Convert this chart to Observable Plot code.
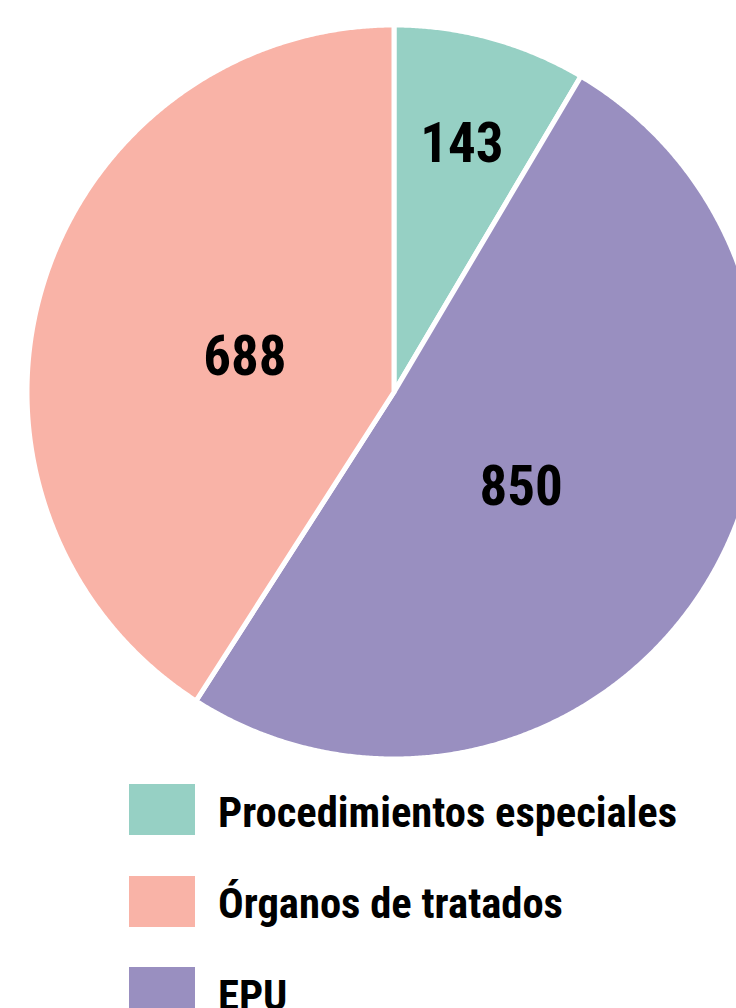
<!DOCTYPE html>
<html>
<head>
<meta charset="utf-8">
<script src="https://cdn.jsdelivr.net/npm/d3@7"></script>
<script src="https://cdn.jsdelivr.net/npm/@observablehq/plot@0.6"></script>
<style>
  html, body { margin: 0; padding: 0; background: #fff; overflow: hidden; }
  #chart svg { display: block; }
  .legend { margin-left: 129px; margin-top: 14px; font-family: "Roboto Condensed", "Liberation Sans Narrow", "DejaVu Sans Condensed", sans-serif; font-weight: 700; }
  .row { display: flex; align-items: center; height: 51px; margin-bottom: 40.5px; }
  .sw { width: 66px; height: 51px; flex: none; }
  .lab { margin-left: 23px; font-size: 42.6px; color: #000; white-space: nowrap; position: relative; top: 2px; }
</style>
</head>
<body>
<div id="chart"></div>
<div class="legend" id="legend"></div>
<script>
// Data
const categories = ["Procedimientos especiales", "Órganos de tratados", "EPU"];
const values = [143, 688, 850];
const colors = ["#96d0c4", "#f9b3a7", "#998fc0"];
// clockwise order of slices starting at 12 o'clock
const pieOrder = ["Procedimientos especiales", "EPU", "Órganos de tratados"];

// Layout (label placement relative to each slice's mid-angle)
const labelRadius = [0.70, 0.417, 0.433];
const labelAngleShift = [0, -3.3, 5.2]; // degrees
const W = 736, H = 770;
const cx = 393.5, cy = 391.5, R = 367;
const font = '"Roboto Condensed", "Liberation Sans Narrow", "DejaVu Sans Condensed", sans-serif';

const total = d3.sum(values);
let acc = 0;
const slices = pieOrder.map(name => {
  const i = categories.indexOf(name);
  const a0 = acc / total * 2 * Math.PI;
  acc += values[i];
  const a1 = acc / total * 2 * Math.PI;
  return {name, value: values[i], a0, a1, lr: labelRadius[i], shift: labelAngleShift[i] * Math.PI / 180};
});

const pts = [];
for (const s of slices) {
  pts.push({name: s.name, x: cx, y: cy});
  const n = Math.max(8, Math.ceil((s.a1 - s.a0) / 0.005));
  for (let k = 0; k <= n; k++) {
    const a = s.a0 + (s.a1 - s.a0) * k / n;
    pts.push({name: s.name, x: cx + R * Math.sin(a), y: cy - R * Math.cos(a)});
  }
  pts.push({name: s.name, x: cx, y: cy});
}
const labels = slices.map(s => {
  const a = (s.a0 + s.a1) / 2 + s.shift;
  return {text: String(s.value), x: cx + s.lr * R * Math.sin(a), y: cy - s.lr * R * Math.cos(a)};
});

const plot = Plot.plot({
  width: W, height: H,
  margin: 0,
  x: {domain: [0, W], range: [0, W], axis: null},
  y: {domain: [0, H], range: [0, H], axis: null},
  color: {domain: categories, range: colors},
  style: {background: "#fff", overflow: "hidden"},
  marks: [
    Plot.line(pts, {x: "x", y: "y", z: "name", fill: "name", stroke: "#fff", strokeWidth: 5, strokeLinejoin: "round", clip: true}),
    Plot.text(labels, {x: "x", y: "y", text: "text", fontSize: 55, fontWeight: "bold", fontFamily: font, fill: "#000", textAnchor: "middle", lineAnchor: "middle"})
  ]
});
document.getElementById("chart").appendChild(plot);

const leg = document.getElementById("legend");
categories.forEach((c, i) => {
  const row = document.createElement("div");
  row.className = "row";
  const sw = document.createElement("div");
  sw.className = "sw";
  sw.style.background = colors[i];
  const lab = document.createElement("div");
  lab.className = "lab";
  lab.textContent = c;
  row.appendChild(sw); row.appendChild(lab);
  leg.appendChild(row);
});
</script>
</body>
</html>
